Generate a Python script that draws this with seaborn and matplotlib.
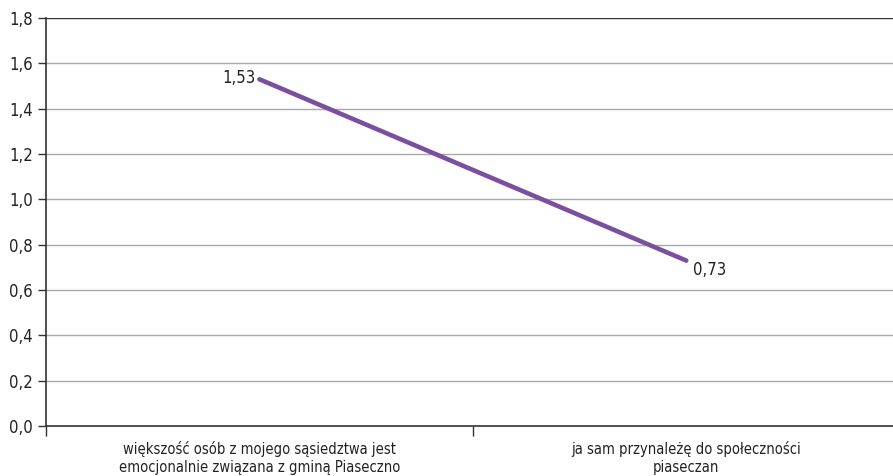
import pandas as pd
import seaborn as sns
import matplotlib.pyplot as plt
from matplotlib.ticker import FixedLocator

categories = ['większość osób z mojego sąsiedztwa jest\nemocjonalnie związana z gminą Piaseczno',
              'ja sam przynależę do społeczności\npiaseczan']
values = [1.53, 0.73]
yticks = [0.0, 0.2, 0.4, 0.6, 0.8, 1.0, 1.2, 1.4, 1.6, 1.8]

df = pd.DataFrame({'pos': [0, 1], 'value': values})

sns.set_style('white')
plt.rcParams['font.family'] = ['DejaVu Sans']
plt.rcParams['font.stretch'] = 'condensed'

fig = plt.figure(figsize=(8.93, 4.76), dpi=100)
ax = fig.add_axes([0.0515, 0.105, 0.956, 0.857])

sns.lineplot(data=df, x='pos', y='value', color='#7b4fa0', linewidth=3.3, ax=ax)

ax.set_xlim(-0.5, 1.5)
ax.set_ylim(0, 1.8)
ax.set_yticks(yticks)
ax.set_yticklabels([f'{t:.1f}'.replace('.', ',') for t in yticks], fontsize=12, color='#222222')
for t in yticks[1:-1]:
    ax.axhline(t, color='#a8a8a8', linewidth=1, zorder=0)
ax.axhline(1.8, color='#333333', linewidth=1, zorder=0)

ax.set_xticks([0, 1])
ax.set_xticklabels(categories, fontsize=10.5, color='#222222', linespacing=1.25)
ax.xaxis.set_minor_locator(FixedLocator([-0.5, 0.5, 1.5]))
ax.tick_params(axis='x', which='major', length=0, pad=11)
ax.tick_params(axis='x', which='minor', length=7, width=1, color='#333333',
               direction='out', bottom=True)
ax.tick_params(axis='y', length=6, width=1, color='#333333', direction='out', left=True)
ax.set_xlabel('')
ax.set_ylabel('')

for s in ['top', 'right']:
    ax.spines[s].set_visible(False)
for s in ['left', 'bottom']:
    ax.spines[s].set_color('#333333')
    ax.spines[s].set_linewidth(1.2)

ax.text(-0.01, values[0] + 0.005, '1,53', ha='right', va='center', fontsize=12, color='#222222')
ax.text(1.015, values[1] - 0.04, '0,73', ha='left', va='center', fontsize=12, color='#222222')

fig.savefig('out.png', dpi=100)
